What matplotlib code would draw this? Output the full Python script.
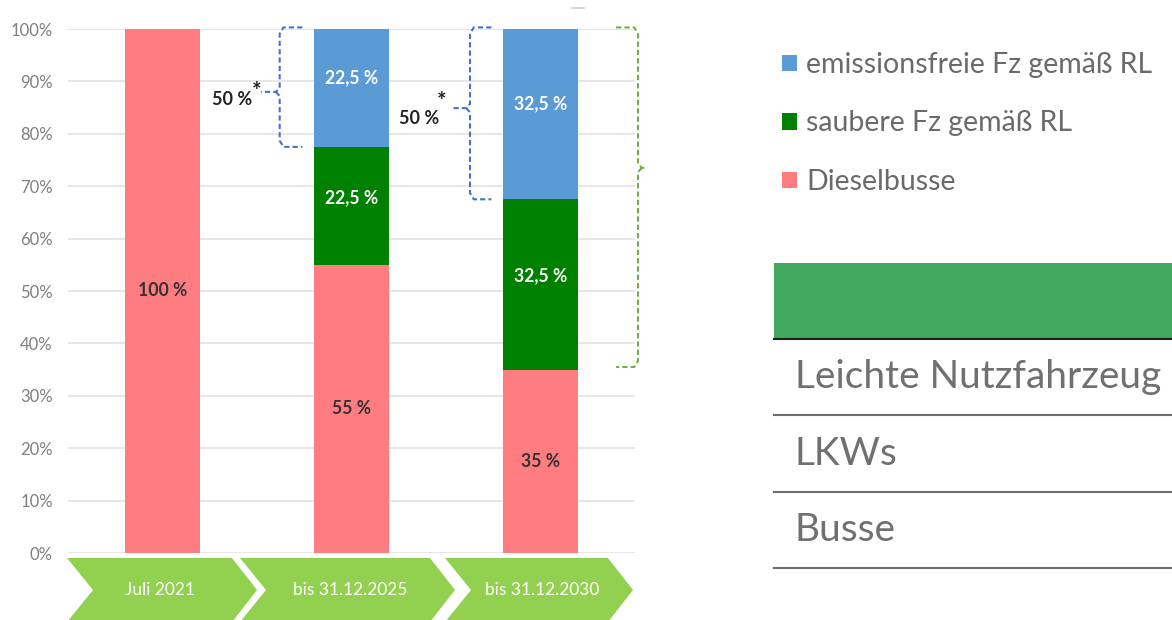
import matplotlib
matplotlib.use("Agg")
import matplotlib.pyplot as plt
from matplotlib.patches import Polygon, Rectangle
import numpy as np

plt.rcParams['font.family'] = ['Lato', 'DejaVu Sans']

# data
categories = ["Juli 2021", "bis 31.12.2025", "bis 31.12.2030"]
diesel = [100, 55, 35]
sauber = [0, 22.5, 32.5]
emissionsfrei = [0, 22.5, 32.5]
series_names = ["Dieselbusse", "saubere Fz gemäß RL", "emissionsfreie Fz gemäß RL"]
series_colors = ["#FF7C80", "#008000", "#5B9BD5"]
label_colors = ["#333333", "white", "white"]
label_shift = [0, 1.6, 2.0]
yticks = list(range(0, 101, 10))
table_rows = ["Leichte Nutzfahrzeug", "LKWs", "Busse"]

W, H = 1172, 620
fig = plt.figure(figsize=(W / 100, H / 100), dpi=100)

# overlay in pixel coordinates for the decorations around the chart
ov = fig.add_axes([0, 0, 1, 1])
ov.set_xlim(0, W)
ov.set_ylim(H, 0)
ov.axis("off")

# main chart
ax = fig.add_axes([68 / W, (H - 553) / H, (635 - 68) / W, (553 - 29) / H])
x = np.arange(len(categories))
bottom = np.zeros(len(categories))
handles = []
for vals, name, col, tc, sh in zip([diesel, sauber, emissionsfrei], series_names,
                                   series_colors, label_colors, label_shift):
    vals = np.array(vals, dtype=float)
    b = ax.bar(x, vals, 0.4, bottom=bottom, color=col, label=name, zorder=2)
    handles.append(b)
    for xi, v, b0 in zip(x, vals, bottom):
        if v > 0:
            txt = ("%g %%" % v).replace(".", ",")
            ax.text(xi, b0 + v / 2 + sh, txt, ha="center", va="center",
                    color=tc, fontsize=12.7, fontweight="bold", zorder=3)
    bottom += vals

ax.set_xlim(-0.5, 2.5)
ax.set_ylim(0, 100)
ax.set_yticks(yticks)
ax.set_yticklabels(["%d%%" % t for t in yticks], color="#7f7f7f", fontsize=12)
ax.tick_params(axis="y", length=0, pad=11)
ax.set_xticks([])
ax.grid(axis="y", color="#e3e3e3", linewidth=1.2, zorder=0)
for s in ax.spines.values():
    s.set_visible(False)


def brace(x_out, x_mid, x_tip, y_top, y_bot, y_tip, color):
    d = 0.02 if x_out > x_mid else -0.02
    xs = [x_out, x_mid + d, x_mid, x_mid, x_mid - d, x_tip]
    ys = [y_top, y_top, y_top - 1.2, y_tip + 0.8, y_tip, y_tip]
    ax.plot(xs, ys, ls=(0, (2.5, 1.5)), color=color, lw=1.5, clip_on=False, zorder=4)
    xs = [x_mid - d, x_mid, x_mid, x_mid + d, x_out]
    ys = [y_tip, y_tip - 0.8, y_bot + 1.2, y_bot, y_bot]
    ax.plot(xs, ys, ls=(0, (2.5, 1.5)), color=color, lw=1.5, clip_on=False, zorder=4)


# braces (x in category units)
top2030 = diesel[2] + sauber[2] + emissionsfrei[2]
brace(0.74, 0.62, 0.52, 100.3, diesel[1] + sauber[1], 88.0, "#4472C4")
brace(1.74, 1.627, 1.53, 100.3, diesel[2] + sauber[2], 84.9, "#4472C4")
brace(2.40, 2.516, 2.565, top2030 + 0.3, diesel[2] + 0.5, 73.5, "#70AD47")

ax.text(0.37, 86.6, "50 %", ha="center", va="center", fontsize=13,
        fontweight="bold", color="#222222")
ax.text(0.50, 88.0, "*", ha="center", va="center", fontsize=16,
        fontweight="bold", color="#222222")
ax.text(1.36, 83.0, "50 %", ha="center", va="center", fontsize=13,
        fontweight="bold", color="#222222")
ax.text(1.475, 86.2, "*", ha="center", va="center", fontsize=16,
        fontweight="bold", color="#222222")

# chevrons under the bars
chev_left = [67, 240, 445]
chev_right = [232, 430, 608]
chev_text_x = [160, 350, 542]
for cat, l, r, tx in zip(categories, chev_left, chev_right, chev_text_x):
    pts = [(l, 558), (r, 558), (r + 25, 590), (r, 622), (l, 622), (l + 26, 590)]
    ov.add_patch(Polygon(pts, closed=True, facecolor="#92D050", edgecolor="none"))
    ov.text(tx, 590, cat, ha="center", va="center", color="white", fontsize=12.5)

ov.plot([572, 584], [8, 8], color="#d0d0d0", lw=1.2)

# legend
fig.legend(handles[::-1], series_names[::-1], loc="upper left",
           bbox_to_anchor=(782 / W, 1 - 52 / H), frameon=False,
           fontsize=20.5, labelcolor="#6a6a6a", handlelength=0.52,
           handleheight=0.52, handletextpad=0.33, labelspacing=1.14,
           borderaxespad=0, borderpad=0)

# table on the right
ov.add_patch(Rectangle((774, 263), W - 774, 75, facecolor="#41A85F", edgecolor="none"))
ov.plot([774, W], [339, 339], color="#1e1e1e", lw=1.5)
row_lines = [415, 492, 568]
row_text_y = [377, 454, 530]
for name, ly, ty in zip(table_rows, row_lines, row_text_y):
    ov.plot([774, W], [ly, ly], color="#6e6e6e", lw=1.5)
    ov.text(795, ty, name, ha="left", va="center", color="#707070", fontsize=28)

fig.savefig("out.png", dpi=100)
